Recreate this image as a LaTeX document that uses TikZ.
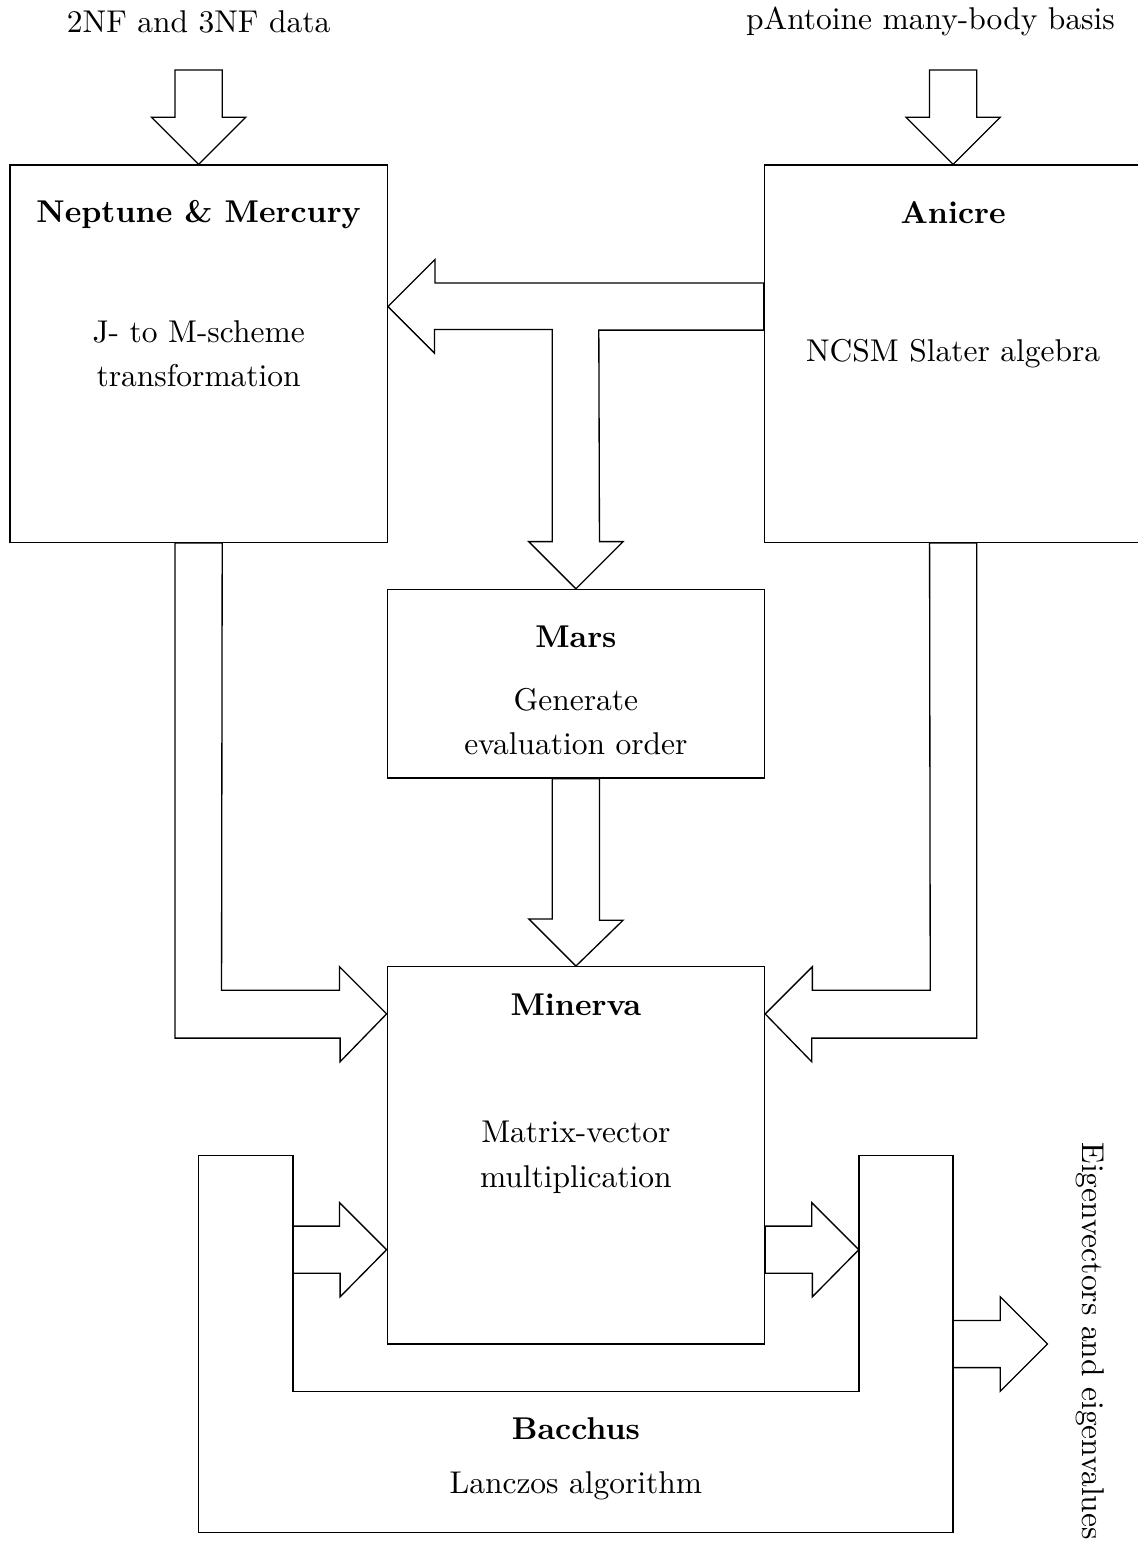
\documentclass[tikz,border=0pt]{standalone}
\usetikzlibrary{calc}
\tikzset{
  box/.style={draw,minimum width=4cm,minimum height=4cm,inner sep=0pt},
  title/.style={font=\fontsize{9.5}{13.5}\selectfont\bfseries},
  desc/.style={align=center},
  blockarrow/.style={draw,line join=miter},
}
\begin{document}
\fontsize{9.5}{13.5}\selectfont
\begin{tikzpicture}[x=1cm,y=1cm]
\path[use as bounding box] (-0.106,1.75) rectangle (11.95,-14.61);
% boxes
\node[box] (nep) at (2,-2) {};
\node[box] (ani) at (10,-2) {};
\node[box,minimum height=2cm] (mars) at (6,-5.5) {};
\node[box] (min) at (6,-10.5) {};
\draw (2,-10.5) -- (2,-14.5) -- (10,-14.5) -- (10,-10.5) -- (9,-10.5) -- (9,-13) -- (3,-13) -- (3,-10.5) -- cycle;
\coordinate (bacin) at (3,-11.5);
\coordinate (bacout) at (9,-11.5);
\coordinate (result) at (11,-12.5);
% texts
\node (datain) at (2,1.52) {2NF and 3NF data};
\node (basisin) at (9.76,1.52) {pAntoine many-body basis};
\node[title] at (2,-0.52) {Neptune \& Mercury};
\node[desc] at (2,-2) {J- to M-scheme\\transformation};
\node[title] at (10,-0.5) {Anicre};
\node[desc] at (10,-2) {NCSM Slater algebra};
\node[title] at (6,-5) {Mars};
\node[desc] at (6,-5.9) {Generate\\evaluation order};
\node[title] at (6,-8.9) {Minerva};
\node[desc] at (6,-10.52) {Matrix-vector\\multiplication};
\node[title] at (6,-13.4) {Bacchus};
\node[desc] at (6,-14.0) {Lanczos algorithm};
\node[rotate=-90] (eigen) at (11.45,-12.47) {Eigenvectors and eigenvalues};
% inputs
\draw[blockarrow] (nep.north) -- ++(-0.5,0.5) -- ++(0.25,0) -- ++(0,0.5) -- ++(0.5,0) -- ++(0,-0.5) -- ++(0.25,0) -- cycle;
\draw[blockarrow] (ani.north) -- ++(-0.5,0.5) -- ++(0.25,0) -- ++(0,0.5) -- ++(0.5,0) -- ++(0,-0.5) -- ++(0.25,0) -- cycle;
% anicre to neptune and mars
\draw[blockarrow] ($(nep.east)+(0,0.5)$) -- ++(0.5,0.5) -- ++(0,-0.25) -- ($(ani.west)+(0,0.75)$) -- ++(0,-0.5) -- ++(-1.75,0)
  -- ($(mars.north)+(0.25,0.5)$) -- ++(0.25,0) -- (mars.north) -- ++(-0.5,0.5) -- ++(0.25,0) -- ++(0,2.25) -- ++(-1.25,0) -- ++(0,-0.25) -- cycle;
% mars to minerva
\draw[blockarrow] (min.north) -- ++(-0.5,0.5) -- ++(0.25,0) -- ($(mars.south)+(-0.25,0)$) -- ++(0.5,0) -- ++(0,-1.5) -- ++(0.25,0) -- cycle;
% neptune and anicre to minerva
\draw[blockarrow] ($(min.west)+(0,1.5)$) -- ++(-0.5,0.5) -- ++(0,-0.25) -- ++(-1.25,0) -- ($(nep.south)+(0.25,0)$) -- ++(-0.5,0) -- ++(0,-5.25) -- ++(1.75,0) -- ++(0,-0.25) -- cycle;
\draw[blockarrow] ($(min.east)+(0,1.5)$) -- ++(0.5,0.5) -- ++(0,-0.25) -- ++(1.25,0) -- ($(ani.south)+(-0.25,0)$) -- ++(0.5,0) -- ++(0,-5.25) -- ++(-1.75,0) -- ++(0,-0.25) -- cycle;
% bacchus and minerva
\draw[blockarrow] ($(min.west)+(0,-1)$) -- ++(-0.5,0.5) -- ++(0,-0.25) -- (bacin |- 0,-11.25) -- ++(0,-0.5) -- ++(0.5,0) -- ++(0,-0.25) -- cycle;
\draw[blockarrow] (bacout) -- ++(-0.5,0.5) -- ++(0,-0.25) -- ($(min.east)+(0,-0.75)$) -- ++(0,-0.5) -- ++(0.5,0) -- ++(0,-0.25) -- cycle;
\draw[blockarrow] (result) -- ++(-0.5,0.5) -- ++(0,-0.25) -- ++(-0.5,0) -- ++(0,-0.5) -- ++(0.5,0) -- ++(0,-0.25) -- cycle;
\end{tikzpicture}
\end{document}
